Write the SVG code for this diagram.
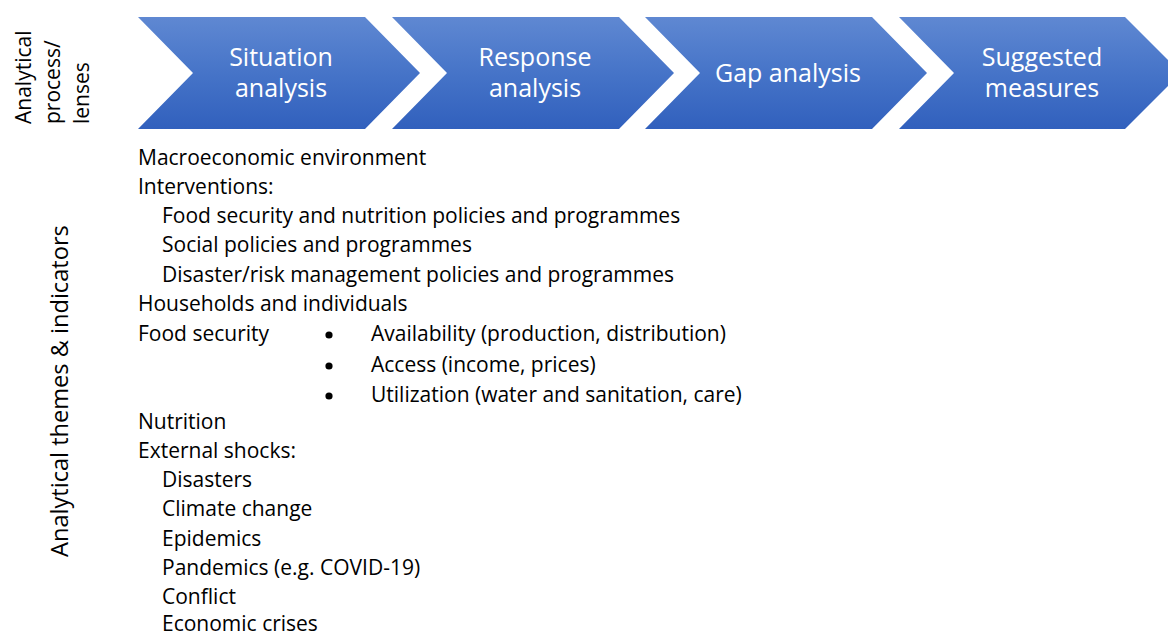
<svg xmlns="http://www.w3.org/2000/svg" width="1168" height="635" viewBox="0 0 1168 635">
<defs>
<linearGradient id="blue" x1="0" y1="0" x2="0" y2="1">
<stop offset="0" stop-color="#5f88d2"/>
<stop offset="0.5" stop-color="#4674c8"/>
<stop offset="1" stop-color="#3160bd"/>
</linearGradient>
<style>
.chev{fill:url(#blue);}
.ct{font-family:"Open Sans","Noto Sans",sans-serif;font-size:25px;fill:#ffffff;text-anchor:middle;}
.t{font-family:"Open Sans","Noto Sans",sans-serif;font-size:21px;fill:#000000;}
.big{font-size:23.6px;}
</style>
</defs>
<rect width="1168" height="635" fill="#ffffff"/>
<g id="label-process">
<text class="t" transform="translate(31,124) rotate(-90)">Analytical</text>
<text class="t" transform="translate(60,124) rotate(-90)">process/</text>
<text class="t" transform="translate(89,124) rotate(-90)">lenses</text>
</g>
<g id="label-themes">
<text class="t big" transform="translate(68,557) rotate(-90)">Analytical themes &amp; indicators</text>
</g>
<g id="chevron-situation">
<polygon class="chev" points="138,17 365,17 420,73 365,129 138,129 193,73"/>
<text class="ct" x="281" y="66">Situation</text>
<text class="ct" x="281" y="97">analysis</text>
</g>
<g id="chevron-response">
<polygon class="chev" points="392,17 619,17 674,73 619,129 392,129 447,73"/>
<text class="ct" x="535" y="66">Response</text>
<text class="ct" x="535" y="97">analysis</text>
</g>
<g id="chevron-gap">
<polygon class="chev" points="645,17 872,17 927,73 872,129 645,129 700,73"/>
<text class="ct" x="788" y="82">Gap analysis</text>
</g>
<g id="chevron-measures">
<polygon class="chev" points="899,17 1125,17 1181,73 1125,129 899,129 954,73"/>
<text class="ct" x="1042" y="66">Suggested</text>
<text class="ct" x="1042" y="97">measures</text>
</g>
<g id="connectors"></g>
<g id="themes">
<text class="t" x="138" y="165">Macroeconomic environment</text>
<text class="t" x="138" y="194">Interventions:</text>
<text class="t" x="162" y="223">Food security and nutrition policies and programmes</text>
<text class="t" x="162" y="252">Social policies and programmes</text>
<text class="t" x="162" y="282">Disaster/risk management policies and programmes</text>
<text class="t" x="138" y="311">Households and individuals</text>
<text class="t" x="138" y="341">Food security</text>
<circle cx="329" cy="335" r="3.6" fill="#000"/>
<text class="t" x="371" y="341">Availability (production, distribution)</text>
<circle cx="329" cy="366" r="3.6" fill="#000"/>
<text class="t" x="371" y="372">Access (income, prices)</text>
<circle cx="329" cy="396" r="3.6" fill="#000"/>
<text class="t" x="371" y="402">Utilization (water and sanitation, care)</text>
<text class="t" x="138" y="429">Nutrition</text>
<text class="t" x="138" y="458">External shocks:</text>
<text class="t" x="162" y="487">Disasters</text>
<text class="t" x="162" y="516">Climate change</text>
<text class="t" x="162" y="546">Epidemics</text>
<text class="t" x="162" y="575">Pandemics (e.g. COVID-19)</text>
<text class="t" x="162" y="604">Conflict</text>
<text class="t" x="162" y="631">Economic crises</text>
</g>
</svg>
